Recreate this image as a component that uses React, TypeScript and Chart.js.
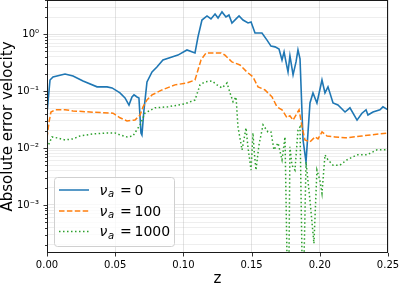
import React, { useEffect, useRef } from 'react';
import { Chart, registerables } from 'chart.js';

Chart.register(...registerables);

// ---- data (z, absolute error velocity) ----
const blueZ = [0, 0.0022, 0.0044, 0.0073, 0.0132, 0.0191, 0.0264, 0.0367, 0.044, 0.0477, 0.0535, 0.0572, 0.0601, 0.0623, 0.0638, 0.066, 0.0674, 0.0689, 0.0696, 0.0711, 0.0733, 0.077, 0.0806, 0.085, 0.0916, 0.096, 0.1026, 0.1085, 0.1107, 0.1136, 0.1173, 0.1202, 0.1232, 0.1254, 0.1283, 0.1312, 0.1334, 0.1356, 0.1386, 0.1408, 0.1437, 0.1474, 0.1496, 0.1525, 0.1576, 0.1613, 0.1642, 0.1672, 0.1701, 0.1723, 0.1738, 0.1752, 0.1767, 0.1781, 0.1804, 0.1826, 0.184, 0.1855, 0.1877, 0.1899, 0.1928, 0.195, 0.1979, 0.2016, 0.2038, 0.206, 0.2097, 0.2133, 0.2185, 0.2221, 0.2273, 0.2309, 0.2339, 0.2353, 0.239, 0.2441, 0.2463, 0.25];
const blueV = [0.041, 0.157, 0.178, 0.185, 0.2, 0.185, 0.151, 0.119, 0.119, 0.114, 0.093, 0.076, 0.057, 0.079, 0.086, 0.079, 0.076, 0.0184, 0.017, 0.047, 0.145, 0.217, 0.266, 0.353, 0.4, 0.43, 0.53, 0.47, 0.9, 1.78, 2.1, 1.86, 2.27, 1.93, 2.47, 2.01, 2.18, 1.58, 1.86, 2.1, 1.78, 1.58, 1.64, 1.05, 1.05, 0.79, 0.62, 0.6, 0.55, 0.353, 0.49, 0.326, 0.217, 0.42, 0.193, 0.33, 0.53, 0.37, 0.0139, 0.0057, 0.062, 0.093, 0.062, 0.157, 0.093, 0.119, 0.062, 0.057, 0.043, 0.051, 0.031, 0.041, 0.047, 0.038, 0.043, 0.047, 0.053, 0.047];

const orangeZ = [0, 0.0015, 0.0029, 0.0059, 0.0132, 0.0191, 0.0315, 0.0484, 0.0535, 0.0587, 0.0645, 0.0682, 0.0704, 0.0733, 0.077, 0.0843, 0.0938, 0.1026, 0.1085, 0.1107, 0.1129, 0.1166, 0.121, 0.1276, 0.1305, 0.1356, 0.1415, 0.1466, 0.151, 0.1547, 0.1598, 0.165, 0.1686, 0.1723, 0.176, 0.1781, 0.1804, 0.1833, 0.1848, 0.187, 0.1891, 0.1928, 0.1965, 0.1987, 0.2016, 0.2053, 0.2111, 0.2185, 0.2309, 0.25];
const orangeV = [0.0151, 0.0288, 0.043, 0.047, 0.047, 0.045, 0.043, 0.041, 0.034, 0.03, 0.031, 0.038, 0.053, 0.07, 0.086, 0.105, 0.129, 0.139, 0.157, 0.236, 0.353, 0.47, 0.47, 0.47, 0.43, 0.326, 0.289, 0.217, 0.178, 0.119, 0.105, 0.079, 0.053, 0.047, 0.034, 0.037, 0.031, 0.041, 0.047, 0.0235, 0.0139, 0.0128, 0.0157, 0.0145, 0.0192, 0.0163, 0.0157, 0.0151, 0.0163, 0.0184];

const greenZ = [0, 0.0037, 0.0073, 0.0132, 0.0191, 0.0242, 0.0337, 0.044, 0.0499, 0.0535, 0.0587, 0.063, 0.0682, 0.0718, 0.0792, 0.0887, 0.1012, 0.1085, 0.1122, 0.1158, 0.121, 0.1246, 0.1283, 0.132, 0.1342, 0.1364, 0.1386, 0.14, 0.143, 0.1459, 0.1474, 0.1496, 0.151, 0.1518, 0.1532, 0.1554, 0.1584, 0.162, 0.1642, 0.1664, 0.1694, 0.1723, 0.1745, 0.176, 0.1774, 0.1781, 0.1796, 0.1818, 0.184, 0.1855, 0.187, 0.1884, 0.1899, 0.1928, 0.1957, 0.1979, 0.2001, 0.2016, 0.2038, 0.206, 0.2097, 0.2148, 0.2199, 0.2273, 0.2346, 0.2419, 0.25];
const greenV = [0.01, 0.0157, 0.0151, 0.0139, 0.0145, 0.0163, 0.0177, 0.0184, 0.0184, 0.017, 0.0157, 0.0163, 0.0255, 0.041, 0.051, 0.053, 0.06, 0.07, 0.129, 0.145, 0.151, 0.129, 0.114, 0.139, 0.093, 0.065, 0.079, 0.0235, 0.0093, 0.0226, 0.01, 0.0041, 0.0184, 0.0093, 0.0041, 0.0113, 0.0255, 0.0192, 0.0192, 0.0093, 0.0123, 0.0062, 0.0157, 0.0001, 0.0001, 0.0105, 0.005, 0.0041, 0.0208, 0.0235, 0.0001, 0.0001, 0.0057, 0.0012, 0.00021, 0.0041, 0.0027, 0.0016, 0.0076, 0.0062, 0.005, 0.005, 0.0062, 0.0076, 0.0076, 0.0093, 0.0093];

const seriesValues = ['0', '100', '1000'];
const xTickValues = [0, 0.05, 0.1, 0.15, 0.2, 0.25];
const decadeExps = [-4, -3, -2, -1, 0];
const yMin = 1.43e-4;
const yMax = 4.0;
const xTitle = 'z';
const yTitle = 'Absolute error velocity';

const COLORS = ['#1f77b4', '#ff7f0e', '#2ca02c'];
const DASHES = [[], [5.5, 2.4], [1.5, 2.5]];
const FONT = '"DejaVu Sans", sans-serif';

const yTickVals: number[] = [];
decadeExps.forEach((e) => {
  for (let k = 1; k <= 9; k++) {
    const v = k * Math.pow(10, e);
    if (v >= yMin && v <= yMax) yTickVals.push(v);
  }
});

const isDecade = (v: number) => {
  const l = Math.log10(v);
  return Math.abs(l - Math.round(l)) < 1e-6;
};

const SUP: Record<string, string> = { '-': '⁻', '0': '⁰', '1': '¹', '2': '²', '3': '³', '4': '⁴', '5': '⁵', '6': '⁶', '7': '⁷', '8': '⁸', '9': '⁹' };
const supStr = (n: number) => String(n).split('').map((c) => SUP[c] || c).join('');

const pts = (zs: number[], vs: number[]) => zs.map((z, i) => ({ x: z, y: vs[i] }));

const overlayPlugin = {
  id: 'overlay',
  afterDraw(chart: any) {
    const { ctx, chartArea: a, scales } = chart;
    const xs = scales.x;
    const ys = scales.y;
    ctx.save();
    // tick marks
    ctx.strokeStyle = '#000';
    ctx.lineWidth = 0.8;
    ctx.beginPath();
    xs.ticks.forEach((t: any) => {
      const px = Math.round(xs.getPixelForValue(t.value)) + 0.5;
      ctx.moveTo(px, a.bottom);
      ctx.lineTo(px, a.bottom + 3.5);
    });
    ys.ticks.forEach((t: any) => {
      const py = Math.round(ys.getPixelForValue(t.value)) + 0.5;
      const len = isDecade(t.value) ? 3.5 : 2;
      ctx.moveTo(a.left, py);
      ctx.lineTo(a.left - len, py);
    });
    ctx.stroke();
    // frame
    ctx.lineWidth = 1;
    ctx.strokeStyle = '#1a1a1a';
    ctx.strokeRect(a.left + 0.5, a.top + 0.5, a.right - a.left - 1, a.bottom - a.top - 1);

    // legend
    const bx = 54.5, by = 177.5, bw = 120, bh = 69, r = 3;
    ctx.beginPath();
    ctx.moveTo(bx + r, by);
    ctx.lineTo(bx + bw - r, by);
    ctx.arcTo(bx + bw, by, bx + bw, by + r, r);
    ctx.lineTo(bx + bw, by + bh - r);
    ctx.arcTo(bx + bw, by + bh, bx + bw - r, by + bh, r);
    ctx.lineTo(bx + r, by + bh);
    ctx.arcTo(bx, by + bh, bx, by + bh - r, r);
    ctx.lineTo(bx, by + r);
    ctx.arcTo(bx, by, bx + r, by, r);
    ctx.closePath();
    ctx.fillStyle = 'rgba(255,255,255,0.8)';
    ctx.fill();
    ctx.strokeStyle = '#d0d0d0';
    ctx.lineWidth = 1;
    ctx.stroke();

    const rows = [190, 211, 231.5];
    seriesValues.forEach((val, i) => {
      const ry = rows[i];
      ctx.beginPath();
      ctx.setLineDash(DASHES[i]);
      ctx.strokeStyle = COLORS[i];
      ctx.lineWidth = 1.5;
      ctx.moveTo(59, ry);
      ctx.lineTo(89, ry);
      ctx.stroke();
      ctx.setLineDash([]);
      ctx.fillStyle = '#000';
      ctx.textBaseline = 'alphabetic';
      ctx.textAlign = 'left';
      ctx.font = `italic 14px ${FONT}`;
      ctx.fillText('ν', 99.5, ry + 4.5);
      ctx.font = `italic 10px ${FONT}`;
      ctx.fillText('a', 108, ry + 7);
      ctx.font = `14px ${FONT}`;
      ctx.fillText('=', 120, ry + 4.5);
      ctx.fillText(val, 134.5, ry + 4.5);
    });
    ctx.restore();
  },
};

export default function App() {
  const ref = useRef<HTMLCanvasElement | null>(null);
  useEffect(() => {
    if (!ref.current) return;
    const chart = new Chart(ref.current, {
      type: 'line',
      data: {
        datasets: [
          { data: pts(blueZ, blueV), borderColor: COLORS[0], borderWidth: 1.6, pointRadius: 0, tension: 0, order: 2, borderDash: DASHES[0] },
          { data: pts(orangeZ, orangeV), borderColor: COLORS[1], borderWidth: 1.5, pointRadius: 0, tension: 0, order: 1, borderDash: DASHES[1] },
          { data: pts(greenZ, greenV), borderColor: COLORS[2], borderWidth: 1.5, pointRadius: 0, tension: 0, order: 0, borderDash: DASHES[2] },
        ],
      },
      options: {
        animation: false,
        responsive: false,
        events: [],
        layout: { padding: { top: 0, right: 11, bottom: 0, left: 0 } },
        plugins: { legend: { display: false }, tooltip: { enabled: false } },
        scales: {
          x: {
            type: 'linear',
            min: 0,
            max: 0.25,
            afterFit: (s: any) => { s.height = 34; s.paddingLeft = 0; s.paddingRight = 0; s.paddingTop = 0; s.paddingBottom = 0; },
            afterBuildTicks: (s: any) => { s.ticks = xTickValues.map((v) => ({ value: v })); },
            ticks: {
              autoSkip: false,
              maxRotation: 0,
              padding: 6,
              color: '#000',
              font: { family: FONT, size: 10 },
              callback: (v: any) => Number(v).toFixed(2),
            },
            grid: { drawTicks: false, color: 'rgba(176,176,176,0.45)', lineWidth: 0.8 },
            border: { display: false },
            title: { display: true, text: xTitle, color: '#000', font: { family: FONT, size: 15, lineHeight: 1.1 }, padding: { top: 0, bottom: 0 } },
          },
          y: {
            type: 'logarithmic',
            min: yMin,
            max: yMax,
            afterFit: (s: any) => { s.width = 47; s.paddingLeft = 0; s.paddingRight = 0; s.paddingTop = 0; s.paddingBottom = 0; },
            afterBuildTicks: (s: any) => { s.ticks = yTickVals.map((v) => ({ value: v })); },
            ticks: {
              autoSkip: false,
              padding: 8,
              color: '#000',
              font: { family: FONT, size: 10 },
              callback: (v: any) => (isDecade(Number(v)) ? '10' + supStr(Math.round(Math.log10(Number(v)))) : ''),
            },
            grid: {
              drawTicks: false,
              lineWidth: 0.8,
              color: (c: any) => (c.tick && isDecade(c.tick.value) ? 'rgba(176,176,176,0.45)' : 'rgba(176,176,176,0.28)'),
            },
            border: { display: false },
            title: { display: true, text: yTitle, color: '#000', font: { family: FONT, size: 15, lineHeight: 1.1 }, padding: { top: 0, bottom: 0 } },
          },
        },
      },
      plugins: [overlayPlugin],
    });
    return () => chart.destroy();
  }, []);
  return (
    <div style={{ position: 'absolute', left: 0, top: 0, width: 399, height: 287, background: '#fff' }}>
      <canvas ref={ref} width={399} height={287} style={{ display: 'block' }} />
    </div>
  );
}
